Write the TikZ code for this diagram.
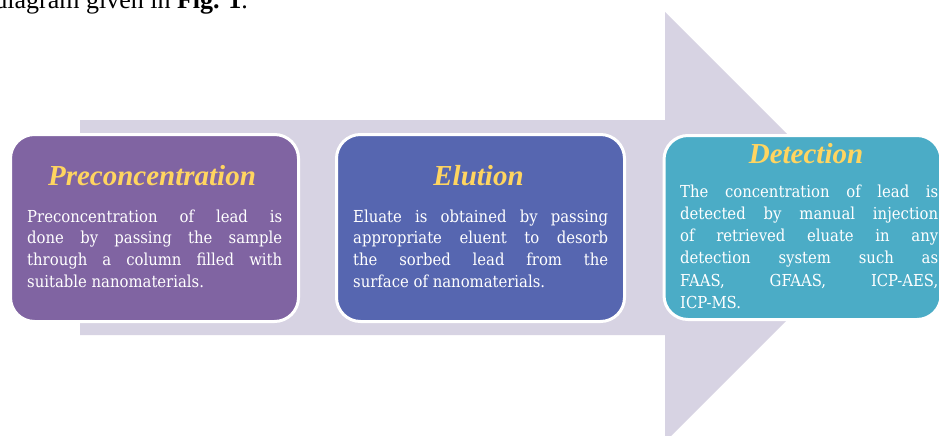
\documentclass[tikz,border=0pt]{standalone}
\usepackage{fontspec}
\setmainfont{Liberation Serif}
\newfontfamily\bodyfont{DejaVu Serif Condensed}
\definecolor{arrowlilac}{RGB}{215,211,227}
\definecolor{precol}{RGB}{128,100,162}
\definecolor{elucol}{RGB}{86,102,176}
\definecolor{detcol}{RGB}{75,172,198}
\definecolor{titlegold}{RGB}{255,213,96}
\hyphenpenalty=10000
\tolerance=10000
\begin{document}
\begin{tikzpicture}[
        x=1pt, y=-1pt,
        stepbox/.style={draw=white, line width=3pt, rounded corners=24pt, minimum height=187pt, inner sep=0pt},
        steptitle/.style={anchor=base, text=titlegold, inner sep=0pt, font=\fontsize{29}{30}\selectfont\bfseries\itshape},
        stepbody/.style={anchor=base west, text=white, align=justify, inner sep=0pt, font=\bodyfont\fontsize{16.5}{21.7}\selectfont},
    ]
    \useasboundingbox (0,0) rectangle (939,436);
    % big arrow behind the steps
    \fill[arrowlilac] (80,120) -- (665,120) -- (665,12) -- (880,227) -- (665,442) -- (665,335) -- (80,335) -- cycle;
    \node[anchor=base east, inner sep=0pt, font=\fontsize{26}{28}\selectfont] (figref) at (248,9) {diagram given in \textbf{Fig. 1}.};
    % steps
    \node[stepbox, fill=precol, minimum width=288pt] (prec) at (154.5,228) {};
    \node[stepbox, fill=elucol, minimum width=288pt] (elut) at (480.5,228) {};
    \node[stepbox, fill=detcol, minimum width=277pt, minimum height=184pt] (detc) at (802.5,227.5) {};
    \node[steptitle] (prectitle) at (152,185) {Preconcentration};
    \node[steptitle] (eluttitle) at (478.5,185) {Elution};
    \node[steptitle] (detctitle) at (806,163) {Detection};
    \node[stepbody, text width=255pt] (precbody) at (27,222) {Preconcentration of lead is\linebreak done by passing the sample\linebreak through a column filled with\linebreak suitable nanomaterials.};
    \node[stepbody, text width=255pt] (elutbody) at (353,222) {Eluate is obtained by passing\linebreak appropriate eluent to desorb\linebreak the sorbed lead from the\linebreak surface of nanomaterials.};
    \node[stepbody, text width=258pt, font=\bodyfont\fontsize{16.5}{22.3}\selectfont] (detcbody) at (680,197) {The concentration of lead is\linebreak detected by manual injection\linebreak of retrieved eluate in any\linebreak detection system such as\linebreak FAAS, GFAAS, ICP-AES,\linebreak ICP-MS.};
\end{tikzpicture}
\end{document}
